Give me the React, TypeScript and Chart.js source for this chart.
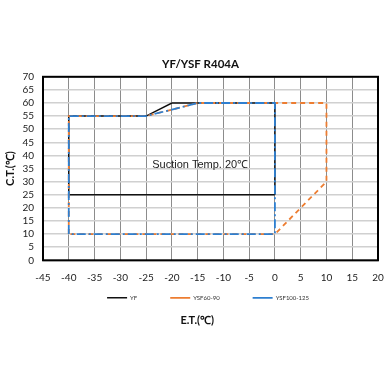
import React, { useEffect, useRef } from "react";
import { Chart, registerables } from "chart.js";

Chart.register(...registerables);

const chartTitle = "YF/YSF R404A";
const xAxisTitle = "E.T.(℃)";
const yAxisTitle = "C.T.(℃)";
const noteText = "Suction Temp. 20℃";
const noteX = -14.5;
const noteY = 36.5;

const seriesNames = ["YF", "YSF60-90", "YSF100-125"];
const yfX = [0, -40, -40, -25, -20, 0, 0];
const yfY = [25, 25, 55, 55, 60, 60, 25];
const ysf6090X = [-40, -40, -25, -15, 10, 10, 0, -40];
const ysf6090Y = [10, 55, 55, 60, 60, 30, 10, 10];
const ysf100X = [-40, -40, -25, -15, 0, 0, -40];
const ysf100Y = [10, 55, 55, 60, 60, 10, 10];

const xMin = -45, xMax = 20, xStep = 5;
const yMin = 0, yMax = 70, yStep = 5;

const toPoints = (xs: number[], ys: number[]) => xs.map((x, i) => ({ x, y: ys[i] }));
const FONT = "Lato, 'Open Sans', sans-serif";
const legendTrail = [10, 10, 22];
const enSpaces = (n: number) => "\u2002".repeat(n);

const frameAndNote = {
  id: "frameAndNote",
  afterDatasetsDraw(chart: any) {
    const { ctx, chartArea, scales } = chart;
    ctx.save();
    ctx.font = "11px 'Liberation Sans', Arial, sans-serif";
    ctx.fillStyle = "#222";
    ctx.textAlign = "center";
    ctx.textBaseline = "middle";
    ctx.fillText(noteText, scales.x.getPixelForValue(noteX), scales.y.getPixelForValue(noteY));
    ctx.strokeStyle = "#000";
    ctx.lineWidth = 2;
    ctx.setLineDash([]);
    ctx.strokeRect(chartArea.left, chartArea.top, chartArea.right - chartArea.left, chartArea.bottom - chartArea.top);
    ctx.restore();
  },
};

export default function App() {
  const ref = useRef<HTMLCanvasElement>(null);
  useEffect(() => {
    document.body.style.margin = "0";
    const chart = new Chart(ref.current as HTMLCanvasElement, {
      type: "scatter",
      data: {
        datasets: [
          {
            label: seriesNames[0],
            data: toPoints(yfX, yfY),
            showLine: true,
            borderColor: "#111111",
            backgroundColor: "#111111",
            borderWidth: 1.5,
            pointRadius: 0,
            order: 3,
          },
          {
            label: seriesNames[1],
            data: toPoints(ysf6090X, ysf6090Y),
            showLine: true,
            borderColor: "#ED7D31",
            backgroundColor: "#ED7D31",
            borderWidth: 1.8,
            borderDash: [5, 4],
            pointRadius: 0,
            order: 2,
          },
          {
            label: seriesNames[2],
            data: toPoints(ysf100X, ysf100Y),
            showLine: true,
            borderColor: "#2E7FD0",
            backgroundColor: "#2E7FD0",
            borderWidth: 1.8,
            borderDash: [9, 3, 2, 3],
            pointRadius: 0,
            order: 1,
          },
        ],
      },
      options: {
        animation: false,
        responsive: false,
        maintainAspectRatio: false,
        layout: { padding: { top: 0, left: 0, right: 14, bottom: 64 } },
        plugins: {
          tooltip: { enabled: false },
          title: {
            display: true,
            text: enSpaces(4) + chartTitle,
            color: "#111",
            font: { family: FONT, size: 11.5, weight: "bold" },
            padding: { top: 57, bottom: 6 },
          },
          subtitle: {
            display: true,
            text: enSpaces(3) + xAxisTitle,
            position: "bottom",
            color: "#111",
            font: { family: FONT, size: 11, weight: "bold" },
            padding: { top: 3, bottom: 0 },
          },
          legend: {
            position: "bottom",
            align: "end",
            labels: {
              usePointStyle: true,
              pointStyle: "line",
              pointStyleWidth: 20,
              boxHeight: 6,
              padding: 3,
              color: "#333",
              font: { family: FONT, size: 6 },
              sort: (a: any, b: any) => a.datasetIndex - b.datasetIndex,
              generateLabels: (chart: any) => {
                const items = (Chart.defaults.plugins.legend.labels as any).generateLabels(chart);
                return items.map((it: any) => ({
                  ...it,
                  text: it.text + enSpaces(legendTrail[it.datasetIndex]),
                }));
              },
            },
          },
        },
        scales: {
          x: {
            type: "linear",
            min: xMin,
            max: xMax,
            afterBuildTicks: (scale: any) => {
              const t = [];
              for (let v = xMin; v <= xMax; v += xStep) t.push({ value: v });
              scale.ticks = t;
            },
            afterFit: (scale: any) => {
              scale.height = 31.5;
              scale.paddingRight = 0;
              scale.paddingLeft = 0;
            },
            ticks: {
              color: "#222",
              padding: 11,
              autoSkip: false,
              maxRotation: 0,
              font: { family: FONT, size: 10 },
            },
            grid: { color: "#8c8c8c", lineWidth: 1, drawTicks: false },
            border: { display: false },
          },
          y: {
            type: "linear",
            min: yMin,
            max: yMax,
            afterBuildTicks: (scale: any) => {
              const t = [];
              for (let v = yMin; v <= yMax; v += yStep) t.push({ value: v });
              scale.ticks = t;
            },
            afterFit: (scale: any) => {
              scale.width = 43;
            },
            ticks: {
              color: "#222",
              padding: 9,
              autoSkip: false,
              font: { family: FONT, size: 10 },
            },
            grid: { color: "#d0d0d0", lineWidth: 1.5, drawTicks: false },
            border: { display: false },
            title: {
              display: true,
              text: yAxisTitle,
              color: "#111",
              padding: { top: 4, bottom: 4 },
              font: { family: FONT, size: 11, weight: "bold" },
            },
          },
        },
      },
      plugins: [frameAndNote],
    } as any);
    return () => chart.destroy();
  }, []);
  return (
    <div style={{ width: 392, height: 391 }}>
      <canvas ref={ref} width={392} height={391} style={{ width: 392, height: 391 }} />
    </div>
  );
}
